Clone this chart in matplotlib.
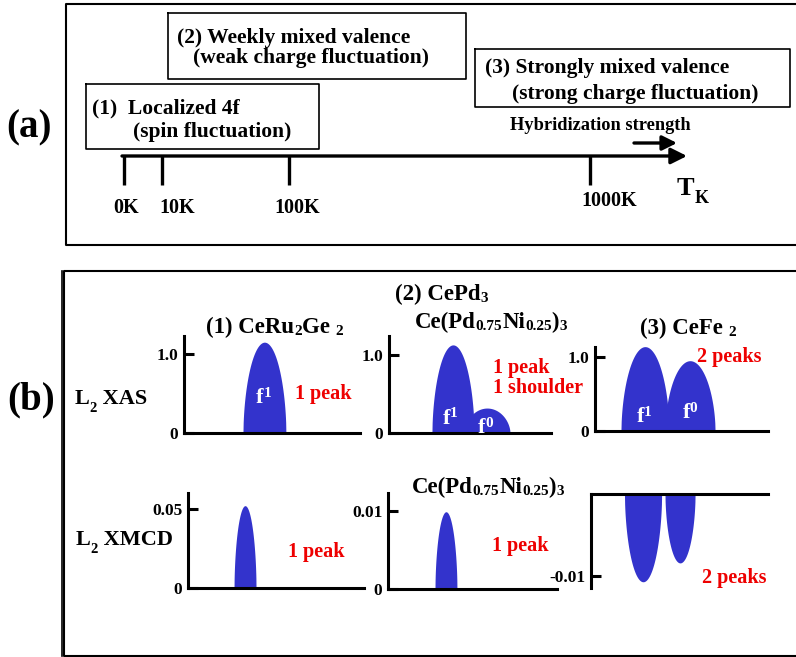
import numpy as np
import matplotlib
matplotlib.use("Agg")
from matplotlib import pyplot as plt

plt.rcParams['font.family'] = ['Liberation Serif', 'DejaVu Serif']
plt.rcParams['font.weight'] = 'bold'

BLUE = "#3333cc"
RED = "#ee0000"

# ---- data: peak centre (0-100 arb. energy), half width, height ----
xas1_centers = [45.7]
xas1_widths = [12.2]
xas1_heights = [1.15]

xas2_centers = [60.5, 39.5]      # shoulder (f0), main peak (f1)
xas2_widths = [14.2, 13.0]
xas2_heights = [0.32, 1.13]

xas3_centers = [28.9, 54.9]      # f1, f0
xas3_widths = [13.9, 14.5]
xas3_heights = [1.14, 0.95]

xmcd1_centers = [32.4]
xmcd1_widths = [6.25]
xmcd1_heights = [0.052]

xmcd2_centers = [34.3]
xmcd2_widths = [6.5]
xmcd2_heights = [0.0099]

xmcd3_centers = [29.4, 50.3]
xmcd3_widths = [10.5, 8.5]
xmcd3_heights = [-0.0107, -0.0084]

tk_labels = ['0K', '10K', '100K', '1000K']

W, H = 796, 657
fig = plt.figure(figsize=(W / 100, H / 100), dpi=100)

# overlay in pixel coordinates for frames, boxes and labels
ov = fig.add_axes([0, 0, 1, 1])
ov.set_xlim(0, W)
ov.set_ylim(H, 0)
ov.axis('off')


def rich(ax, x, y, parts, color='k', **kw):
    """parts: list of (text, size, dy) pieces written one after another"""
    s, size, dy0 = parts[0]
    t = ax.text(x, y, s, fontsize=size, color=color, ha='left',
                va='baseline', fontweight='bold', **kw)
    prev, prev_dy = t, dy0
    for s, size, dy in parts[1:]:
        t = ax.annotate(s, xy=(1, 0), xycoords=prev,
                        xytext=(0, dy - prev_dy), textcoords='offset points',
                        ha='left', va='bottom', fontsize=size, color=color,
                        fontweight='bold', **kw)
        prev, prev_dy = t, dy
    return t


def box(x0, y0, x1, y1, lw=1.2):
    ov.plot([x0, x1, x1, x0, x0], [y0, y0, y1, y1, y0], color='k', lw=lw)


BOX_FS = 15.5
# ---------------- panel (a) ----------------
ov.plot([W, 66, 66, W], [4, 4, 245, 245], color='k', lw=1.5)
ov.text(6, 137, '(a)', fontsize=28, fontweight='bold', va='baseline')

box(86, 84, 319, 149)
ov.text(92, 113, '(1)  Localized 4f', fontsize=BOX_FS, va='baseline')
ov.text(133, 137, '(spin fluctuation)', fontsize=BOX_FS, va='baseline')

box(168, 13, 466, 79)
ov.text(177, 43, '(2) Weekly mixed valence', fontsize=BOX_FS, va='baseline')
ov.text(193, 63, '(weak charge fluctuation)', fontsize=BOX_FS, va='baseline')

box(475, 49, 790, 107)
ov.text(485, 73, '(3) Strongly mixed valence', fontsize=BOX_FS, va='baseline')
ov.text(512, 99, '(strong charge fluctuation)', fontsize=BOX_FS, va='baseline')

ov.text(510, 130, 'Hybridization strength', fontsize=13.2, va='baseline')
ov.annotate('', xy=(677, 143), xytext=(634, 143),
            arrowprops=dict(arrowstyle='-|>', lw=2.4, color='k',
                            mutation_scale=22, shrinkA=0, shrinkB=0))

# T_K axis
tk_x = [124, 162, 289, 590]
ov.annotate('', xy=(687, 156), xytext=(122, 156),
            arrowprops=dict(arrowstyle='-|>', lw=2.4, color='k',
                            mutation_scale=24, shrinkA=0, shrinkB=0))
tk_lab_x = [126, 177, 297, 609]
tk_lab_y = [213, 213, 213, 206]
for xx, lx, ly, lab in zip(tk_x, tk_lab_x, tk_lab_y, tk_labels):
    ov.plot([xx, xx], [156, 185], color='k', lw=2.4, solid_capstyle='butt')
    ov.text(lx, ly, lab, fontsize=14.5, ha='center', va='baseline')
rich(ov, 677, 195, [('T', 19, 0), ('K', 13, -5)])

# ---------------- panel (b) ----------------
ov.plot([W, 63.5, 63.5, W], [271, 271, 656, 656], color='k', lw=1.5)
ov.plot([61.5, 61.5], [271, 656], color='k', lw=1.2)
ov.text(7, 409, '(b)', fontsize=28, fontweight='bold', va='baseline')

rich(ov, 75, 404, [('L', 16, 0), ('2', 10.5, -4), (' XAS', 16, 0)])
rich(ov, 76, 545, [('L', 16, 0), ('2', 10.5, -4), (' XMCD', 16, 0)])

TF, SF = 16.5, 11
rich(ov, 206, 333, [('(1) CeRu', TF, 0), ('2', SF, 0), ('Ge ', TF, 0), ('2', SF, 0)])
rich(ov, 395, 300, [('(2) CePd', TF, 0), ('3', SF, 0)])
rich(ov, 415, 328, [('Ce(Pd', TF, 0), ('0.75', SF, 0), ('Ni', TF, 0),
                    ('0.25', SF, 0), (')', TF, 0), ('3', SF, 0)])
rich(ov, 640, 334, [('(3) CeFe ', TF, 0), ('2', SF, 0)])
rich(ov, 412, 493, [('Ce(Pd', TF, 0), ('0.75', SF, 0), ('Ni', TF, 0),
                    ('0.25', SF, 0), (')', TF, 0), ('3', SF, 0)])

red_kw = dict(fontsize=14.5, color=RED, va='baseline')
ov.text(295, 399, '1 peak', **red_kw)
ov.text(493, 373, '1 peak', **red_kw)
ov.text(493, 393, '1 shoulder', **red_kw)
ov.text(697, 362, '2 peaks', **red_kw)
ov.text(288, 557, '1 peak', **red_kw)
ov.text(492, 551, '1 peak', **red_kw)
ov.text(702, 583, '2 peaks', **red_kw)


def mini(x0, x1, ytop, ybot, ylim, ticks, ticklabels, top=False):
    a = fig.add_axes([x0 / W, 1 - ybot / H, (x1 - x0) / W, (ybot - ytop) / H])
    a.patch.set_alpha(0)
    a.set_xlim(0, 100)
    a.set_ylim(*ylim)
    for sp in a.spines.values():
        sp.set_linewidth(2.2)
    a.spines['right'].set_visible(False)
    a.spines['top' if not top else 'bottom'].set_visible(False)
    a.set_xticks([])
    a.set_yticks(ticks)
    a.set_yticklabels(ticklabels)
    a.tick_params(axis='y', direction='in', length=7, width=2.2,
                  labelsize=12.5, pad=4)
    return a


def peaks(a, centers, widths, heights, base=0.0):
    for c, w, h in zip(centers, widths, heights):
        x = np.linspace(c - w, c + w, 200)
        y = h * np.clip(1 - ((x - c) / w) ** 2, 0, None) ** 0.55
        a.fill_between(x, base, y, color=BLUE, lw=0, clip_on=False, zorder=2)


FL = [('f', 16, 0), ('1', 11, 6)]
F0 = [('f', 16, 0), ('0', 11, 6)]

a1 = mini(184, 360, 336, 433, (0, 1.228), [0, 1.0], ['0', '1.0'])
peaks(a1, xas1_centers, xas1_widths, xas1_heights)
rich(a1, 41, 0.38, FL, color='white', zorder=5)

a2 = mini(389, 551, 336, 433, (0, 1.244), [0, 1.0], ['0', '1.0'])
peaks(a2, xas2_centers, xas2_widths, xas2_heights)
rich(a2, 33, 0.12, FL, color='white', zorder=5)
rich(a2, 55, 0.0, F0, color='white', zorder=5)

a3 = mini(595, 768, 347, 431, (0, 1.135), [0, 1.0], ['0', '1.0'])
peaks(a3, xas3_centers, xas3_widths, xas3_heights)
rich(a3, 24, 0.12, FL, color='white', zorder=5)
rich(a3, 50.5, 0.17, F0, color='white', zorder=5)

b1 = mini(188, 364, 493, 588, (0, 0.060), [0, 0.05], ['0', '0.05'])
peaks(b1, xmcd1_centers, xmcd1_widths, xmcd1_heights)

b2 = mini(388, 557, 493, 589, (0, 0.0123), [0, 0.01], ['0', '0.01'])
peaks(b2, xmcd2_centers, xmcd2_widths, xmcd2_heights)

b3 = mini(591, 768, 494, 588, (-0.01146, 0), [-0.01], ['-0.01'], top=True)
peaks(b3, xmcd3_centers, xmcd3_widths, xmcd3_heights)

fig.savefig('out.png', dpi=100)
